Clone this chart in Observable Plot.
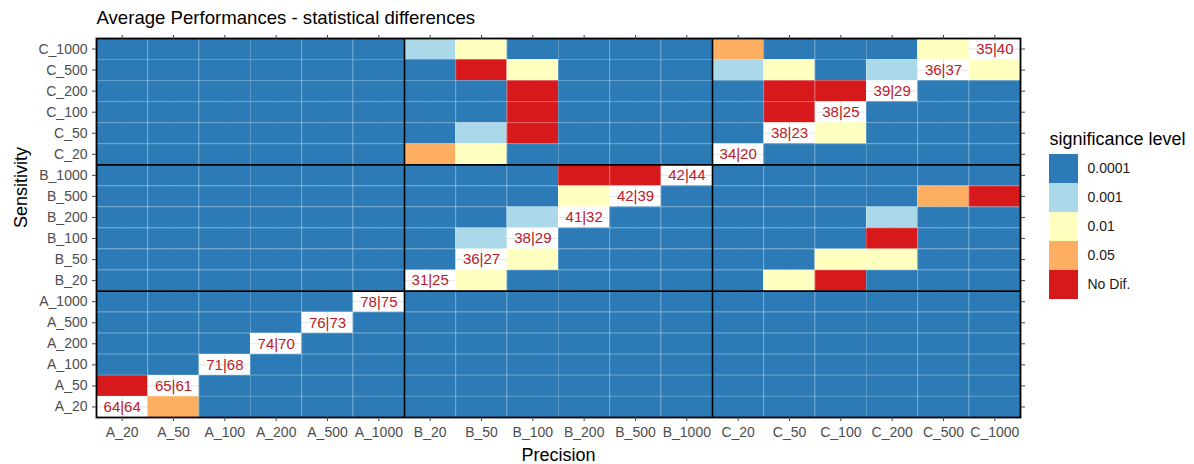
<!DOCTYPE html>
<html><head><meta charset="utf-8">
<script src="https://cdn.jsdelivr.net/npm/d3@7"></script>
<script src="https://cdn.jsdelivr.net/npm/@observablehq/plot@0.6"></script>
<style>
body{margin:0;background:#fff;}
#wrap{position:relative;width:1194px;height:464px;font-family:"Liberation Sans",Arial,Helvetica,sans-serif;}
#legend{position:absolute;left:1040px;top:125px;}
#main{position:absolute;left:0;top:0;}
</style></head><body><div id="wrap"><div id="main"></div><div id="legend"></div></div>
<script>
const categories = ["A_20","A_50","A_100","A_200","A_500","A_1000","B_20","B_50","B_100","B_200","B_500","B_1000","C_20","C_50","C_100","C_200","C_500","C_1000"];
const levels = ["0.0001","0.001","0.01","0.05","No Dif."];
const palette = ["#2c7bb6","#abd9e9","#ffffbf","#fdae61","#d7191c"];
// significance code for each Sensitivity row (bottom to top) across Precision columns
// 0=0.0001 1=0.001 2=0.01 3=0.05 4=No Dif.  "." = diagonal (label, no tile)
const sensitivityRows = [
  ".30000 000000 000000", // A_20
  "4.0000 000000 000000", // A_50
  "00.000 000000 000000", // A_100
  "000.00 000000 000000", // A_200
  "0000.0 000000 000000", // A_500
  "00000. 000000 000000", // A_1000
  "000000 .20000 024000", // B_20
  "000000 0.2000 002200", // B_50
  "000000 01.000 000400", // B_100
  "000000 001.00 000100", // B_200
  "000000 0002.0 000034", // B_500
  "000000 00044. 000000", // B_1000
  "000000 320000 .00000", // C_20
  "000000 014000 0.2000", // C_50
  "000000 004000 04.000", // C_100
  "000000 004000 044.00", // C_200
  "000000 042000 1201.2", // C_500
  "000000 120000 30002."  // C_1000
];
const diagonalLabels = ["64|64","65|61","71|68","74|70","76|73","78|75","31|25","36|27","38|29","41|32","42|39","42|44","34|20","38|23","38|25","39|29","36|37","35|40"];
const title = "Average Performances - statistical differences";
const xTitle = "Precision";
const yTitle = "Sensitivity";
const legendTitle = "significance level";

const n = categories.length;
const cells = [];
const labels = [];
sensitivityRows.forEach((row, i) => {
  row.replace(/\s/g, "").split("").forEach((c, j) => {
    if (c === ".") labels.push({x: j + 0.5, y: i + 0.5, text: diagonalLabels[i]});
    else cells.push({x1: j, x2: j + 1, y1: i, y2: i + 1, level: levels[+c]});
  });
});
const centers = categories.map((_, i) => i + 0.5);
const bounds = d3.range(1, n);
const groupBreaks = d3.range(1, n).filter(i => categories[i][0] !== categories[i - 1][0]);
const fmt = d => categories[Math.floor(d)];
const font = '"Liberation Sans",Arial,Helvetica,sans-serif';

const chart = Plot.plot({
  width: 1194, height: 464,
  marginLeft: 96, marginRight: 174, marginTop: 38, marginBottom: 47,
  style: {fontFamily: font, background: "white"},
  x: {domain: [0, n], axis: null},
  y: {domain: [0, n], axis: null},
  color: {domain: levels, range: palette},
  marks: [
    Plot.gridX(centers, {stroke: "#e3e3e3", strokeOpacity: 1}),
    Plot.gridY(centers, {stroke: "#e3e3e3", strokeOpacity: 1}),
    Plot.rect(cells, {x1: "x1", x2: "x2", y1: "y1", y2: "y2", fill: "level"}),
    Plot.ruleX(bounds, {stroke: "white", strokeOpacity: 0.22}),
    Plot.ruleY(bounds, {stroke: "white", strokeOpacity: 0.22}),
    Plot.text(labels, {x: "x", y: "y", text: "text", fill: "#b8202a", fontSize: 15}),
    Plot.ruleX(groupBreaks, {stroke: "black", strokeWidth: 1.6}),
    Plot.ruleY(groupBreaks, {stroke: "black", strokeWidth: 1.6}),
    Plot.frame({stroke: "black", strokeWidth: 1.8}),
    Plot.axisX(centers, {anchor: "bottom", tickFormat: fmt, tickSize: 4, tickPadding: 6, fontSize: 14, fill: "#4d4d4d", stroke: "#444", label: null}),
    Plot.axisX(centers, {anchor: "top", tickFormat: () => "", tickSize: 4, stroke: "#444", label: null}),
    Plot.axisY(centers, {anchor: "left", tickFormat: fmt, tickSize: 4, tickPadding: 5, fontSize: 14, fill: "#4d4d4d", stroke: "#444", label: null}),
    Plot.axisY(centers, {anchor: "right", tickFormat: () => "", tickSize: 4, stroke: "#444", label: null}),
    Plot.text([xTitle], {frameAnchor: "bottom", lineAnchor: "middle", dy: 38, fontSize: 18, fill: "black"}),
    Plot.text([yTitle], {frameAnchor: "left", lineAnchor: "middle", dx: -75, rotate: -90, fontSize: 18, fill: "black"}),
    Plot.text([title], {frameAnchor: "top-left", lineAnchor: "middle", dy: -20, textAnchor: "start", fontSize: 18.6, fill: "black"})
  ]
});
document.getElementById("main").appendChild(chart);

const legend = Plot.plot({
  width: 154, height: 174,
  marginTop: 29, marginBottom: 0, marginLeft: 9, marginRight: 116,
  style: {fontFamily: font, background: "transparent"},
  y: {domain: levels, axis: null, padding: 0},
  color: {domain: levels, range: palette},
  marks: [
    Plot.cell(levels, {y: d => d, fill: d => d}),
    Plot.text(levels, {y: d => d, frameAnchor: "right", dx: 9, textAnchor: "start", fontSize: 14, fill: "#1a1a1a", text: d => d}),
    Plot.text([legendTitle], {frameAnchor: "top-left", lineAnchor: "middle", dy: -15, textAnchor: "start", fontSize: 18, fill: "black"})
  ]
});
document.getElementById("legend").appendChild(legend);
</script></body></html>
